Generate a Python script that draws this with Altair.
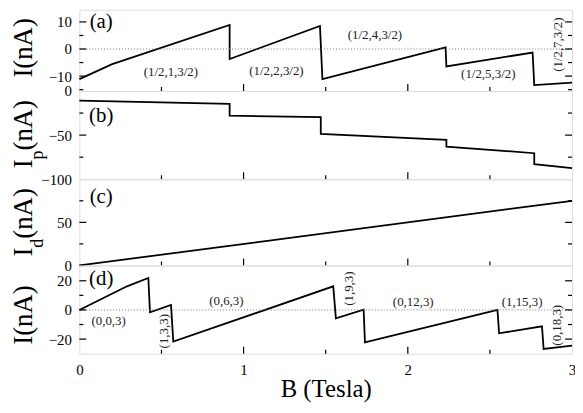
import altair as alt
import pandas as pd

FONT = "Liberation Serif"
W = 497
H = {"a": 82, "b": 89, "c": 87, "d": 89}

# ---- data ----
a_B = [0.0, 0.2, 0.915, 0.915, 1.465, 1.48, 2.23, 2.235, 2.76, 2.77, 3.0]
a_I = [-11.1, -5.6, 8.9, -3.7, 8.5, -11.1, 0.6, -6.4, -1.3, -13.3, -12.4]

b_B = [0.0, 0.915, 0.915, 1.47, 1.47, 2.235, 2.235, 2.77, 2.77, 3.0]
b_I = [-11.0, -14.5, -28.0, -29.5, -48.5, -55.5, -63.0, -70.5, -83.0, -87.5]

c_B = [0.0, 3.0]
c_I = [0.0, 75.0]

d_B = [0.0, 0.29, 0.42, 0.43, 0.558, 0.572, 1.546, 1.562, 1.731, 1.739, 2.546, 2.556, 2.817, 2.827, 3.0]
d_I = [0.0, 16.2, 21.9, -1.6, 3.4, -21.7, 16.2, -5.7, 0.2, -22.2, 0.0, -16.0, -11.2, -26.7, -24.4]

a_lab = ["(1/2,1,3/2)", "(1/2,2,3/2)", "(1/2,4,3/2)", "(1/2,5,3/2)", "(1/2,7,3/2)"]
a_lab_B = [0.557, 1.20, 1.80, 2.49, 2.915]
a_lab_I = [-8.5, -8.2, 5.3, -9.2, 1.6]
a_lab_rot = [0, 0, 0, 0, 1]

d_lab = ["(0,0,3)", "(1,3,3)", "(0,6,3)", "(1,9,3)", "(0,12,3)", "(1,15,3)", "(0,18,3)"]
d_lab_B = [0.178, 0.515, 0.895, 1.64, 2.033, 2.696, 2.91]
d_lab_I = [-7.5, -14.6, 6.1, 14.6, 5.4, 5.4, -10.5]
d_lab_rot = [0, 1, 0, 1, 0, 0, 1]

panel_names = ["(a)", "(b)", "(c)", "(d)"]
panel_name_B = [0.133, 0.133, 0.133, 0.133]
panel_name_I = [10.0, -28.0, 79.0, 21.0]

y_domains = {"a": [-15.5, 14.5], "b": [-100, 0], "c": [0, 100], "d": [-30, 30.5]}
y_labels = {"a": [10, 0, -10], "b": [0, -50, -100], "c": [0, 50], "d": [20, 0, -20]}
y_major = {"a": [10, 0, -10], "b": [-50], "c": [50], "d": [20, 0, -20]}
y_minor = {"a": [5, -5, -15], "b": [-25, -75], "c": [25, 75], "d": [10, -10]}
x_major = [1, 2]
x_minor = [0.5, 1.5, 2.5]
x_labels = [0, 1, 2, 3]

XS = alt.Scale(domain=[0, 3], nice=False, zero=False)


def ys(p):
    return alt.Scale(domain=y_domains[p], nice=False, zero=False)


def panel(p, B, I, idx, labels=None, bottom=False, title_parts=None):
    h = H[p]
    df = pd.DataFrame({"B": B, "I": I, "i": list(range(len(B)))})
    if bottom:
        xaxis = alt.Axis(values=x_labels, format="d", ticks=False, domain=False, grid=False,
                         labelFont=FONT, labelFontSize=15, labelColor="black", labelPadding=9,
                         labelFlush=False, labelOverlap=False,
                         title="B (Tesla)", titleFont=FONT, titleFontSize=25,
                         titleFontWeight="normal", titleColor="black", titlePadding=-1)
    else:
        xaxis = None
    yaxis = alt.Axis(values=y_labels[p], ticks=False, domain=False, grid=False,
                     labelFont=FONT, labelFontSize=15, labelColor="black", labelPadding=8,
                     labelOverlap=False, labelFlush=False, title=None)

    def X(f):
        return alt.X(f, scale=XS, axis=xaxis)

    def Y(f):
        return alt.Y(f, scale=ys(p), axis=yaxis)

    layers = []
    line = alt.Chart(df).mark_line(color="black", strokeWidth=1.8).encode(
        x=X("B:Q"), y=Y("I:Q"), order=alt.Order("i:Q"),
    )
    layers.append(line)
    if p in ("a", "d"):
        zero = alt.Chart(pd.DataFrame({"I": [0]})).mark_rule(
            color="#777777", strokeDash=[1, 2], strokeWidth=1).encode(y=Y("I:Q"))
        layers.append(zero)
    # ticks (inward)
    for vals, ln in ((x_major, 7), (x_minor, 4)):
        layers.append(alt.Chart(pd.DataFrame({"B": vals})).mark_rule(color="black", strokeWidth=1.2).encode(
            x=X("B:Q"), y=alt.value(h), y2=alt.value(h - ln)))
    for vals, ln in ((y_major[p], 7), (y_minor[p], 4)):
        tdf = pd.DataFrame({"I": vals})
        layers.append(alt.Chart(tdf).mark_rule(color="black", strokeWidth=1.2).encode(
            y=Y("I:Q"), x=alt.value(0), x2=alt.value(ln)))
        layers.append(alt.Chart(tdf).mark_rule(color="black", strokeWidth=1.2).encode(
            y=Y("I:Q"), x=alt.value(W), x2=alt.value(W - ln)))
    # panel name
    pn = pd.DataFrame({"t": [panel_names[idx]], "B": [panel_name_B[idx]], "I": [panel_name_I[idx]]})
    layers.append(alt.Chart(pn).mark_text(font=FONT, fontSize=21, color="black").encode(
        x=X("B:Q"), y=Y("I:Q"), text="t:N"))
    # curve annotations
    if labels is not None:
        ldf = pd.DataFrame({"t": labels[0], "B": labels[1], "I": labels[2], "r": labels[3]})
        for r, ang in ((0, 0), (1, 270)):
            sub = ldf[ldf["r"] == r]
            if len(sub):
                layers.append(alt.Chart(sub).mark_text(font=FONT, fontSize=13, color="#222222", angle=ang).encode(
                    x=X("B:Q"), y=Y("I:Q"), text="t:N"))
    # y-axis title pieces
    for txt, xv, yv, fs, al in title_parts:
        layers.append(alt.Chart(pd.DataFrame({"t": [txt]})).mark_text(
            font=FONT, fontSize=fs, color="black", angle=270, align=al, baseline="alphabetic").encode(
            text="t:N", x=alt.value(xv), y=alt.value(yv)))
    return alt.layer(*layers).properties(width=W, height=h)


pa = panel("a", a_B, a_I, 0, labels=(a_lab, a_lab_B, a_lab_I, a_lab_rot),
           title_parts=[("I(nA)", -48, 38.5, 27, "center")])
pb = panel("b", b_B, b_I, 1,
           title_parts=[("I", -48, 78, 27, "left"), ("p", -37, 69, 18, "left"), ("(nA)", -48, 60, 27, "left")])
pc = panel("c", c_B, c_I, 2,
           title_parts=[("I", -48, 78, 27, "left"), ("d", -37, 69, 18, "left"), ("(nA)", -48, 60, 27, "left")])
pd_ = panel("d", d_B, d_I, 3, labels=(d_lab, d_lab_B, d_lab_I, d_lab_rot), bottom=True,
            title_parts=[("I(nA)", -48, 50, 27, "center")])

chart = alt.vconcat(pa, pb, pc, pd_, spacing=0, bounds="flush").resolve_scale(
    y="independent"
).properties(
    autosize=alt.AutoSizeParams(type="none"),
    padding={"left": 72, "top": 0, "right": 3, "bottom": 395}
).configure_view(stroke="black", strokeWidth=1.8).configure(background="white")

chart.save("out.html", embed_options={"renderer": "svg", "actions": False})
